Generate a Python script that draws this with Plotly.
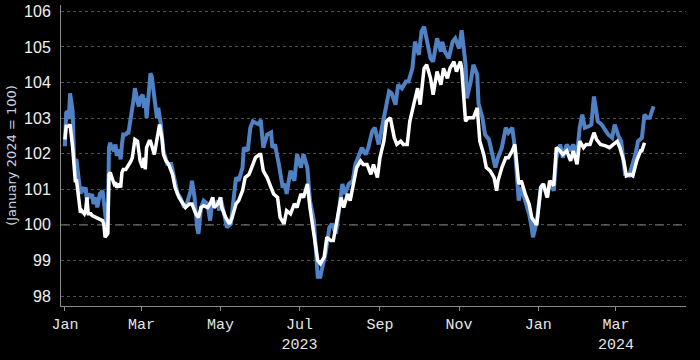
import plotly.graph_objects as go

blue_dates = ["2023-01-01","2023-01-02","2023-01-03","2023-01-04","2023-01-05","2023-01-07","2023-01-08","2023-01-09","2023-01-10","2023-01-12",
"2023-01-13","2023-01-14","2023-01-16","2023-01-17","2023-01-18","2023-01-19","2023-01-21","2023-01-22","2023-01-23","2023-01-25",
"2023-01-26","2023-01-27","2023-01-28","2023-01-30","2023-01-31","2023-02-01","2023-02-03","2023-02-04","2023-02-05","2023-02-06",
"2023-02-08","2023-02-09","2023-02-10","2023-02-12","2023-02-13","2023-02-14","2023-02-15","2023-02-17","2023-02-18","2023-02-19",
"2023-02-21","2023-02-22","2023-02-23","2023-02-24","2023-02-26","2023-02-27","2023-02-28","2023-03-02","2023-03-03","2023-03-04",
"2023-03-05","2023-03-07","2023-03-08","2023-03-09","2023-03-11","2023-03-13","2023-03-14","2023-03-16","2023-03-18","2023-03-21",
"2023-03-24","2023-03-26","2023-03-29","2023-03-31","2023-04-03","2023-04-05","2023-04-08","2023-04-09","2023-04-11","2023-04-13",
"2023-04-14","2023-04-16","2023-04-18","2023-04-21","2023-04-23","2023-04-25","2023-04-26","2023-04-29","2023-04-30","2023-05-01",
"2023-05-04","2023-05-06","2023-05-09","2023-05-11","2023-05-13","2023-05-15","2023-05-18","2023-05-19","2023-05-22","2023-05-24",
"2023-05-26","2023-05-28","2023-05-31","2023-06-01","2023-06-02","2023-06-03","2023-06-06","2023-06-09","2023-06-10","2023-06-12",
"2023-06-15","2023-06-18","2023-06-20","2023-06-21","2023-06-24","2023-06-27","2023-06-29","2023-07-02","2023-07-04","2023-07-07",
"2023-07-09","2023-07-12","2023-07-15","2023-07-17","2023-07-18","2023-07-21","2023-07-24","2023-07-26","2023-07-29","2023-07-31",
"2023-08-03","2023-08-05","2023-08-08","2023-08-11","2023-08-13","2023-08-16","2023-08-18","2023-08-21","2023-08-23","2023-08-26",
"2023-08-28","2023-08-31","2023-09-03","2023-09-05","2023-09-08","2023-09-10","2023-09-13","2023-09-15","2023-09-18","2023-09-21",
"2023-09-23","2023-09-26","2023-09-28","2023-10-01","2023-10-03","2023-10-05","2023-10-07","2023-10-10","2023-10-12","2023-10-15",
"2023-10-18","2023-10-19","2023-10-21","2023-10-24","2023-10-27","2023-10-29","2023-11-01","2023-11-03","2023-11-06","2023-11-07",
"2023-11-10","2023-11-12","2023-11-15","2023-11-16","2023-11-19","2023-11-21","2023-11-24","2023-11-26","2023-11-29","2023-12-01",
"2023-12-04","2023-12-07","2023-12-09","2023-12-12","2023-12-14","2023-12-17","2023-12-19","2023-12-22","2023-12-25","2023-12-27",
"2023-12-28","2023-12-31","2024-01-03","2024-01-05","2024-01-08","2024-01-10","2024-01-13","2024-01-15","2024-01-18","2024-01-20",
"2024-01-23","2024-01-26","2024-01-28","2024-01-31","2024-02-02","2024-02-04","2024-02-06","2024-02-09","2024-02-11","2024-02-13",
"2024-02-15","2024-02-16","2024-02-19","2024-02-22","2024-02-24","2024-02-27","2024-02-29","2024-03-03","2024-03-05","2024-03-08",
"2024-03-11","2024-03-13","2024-03-16","2024-03-18","2024-03-21","2024-03-23","2024-03-25","2024-03-27","2024-03-30"]

blue_values = [102.21,103.15,103.19,102.97,103.70,103.19,101.89,101.80,101.80,101.05,
100.87,101.05,100.96,101.05,100.68,100.87,100.77,100.87,100.59,100.77,
100.49,100.68,100.87,100.96,100.59,100.21,99.75,102.17,102.31,102.17,
102.08,102.26,101.94,102.12,101.84,102.26,102.54,102.54,102.59,102.59,
103.19,103.29,103.52,103.84,103.47,103.33,103.56,103.66,103.29,103.56,
103.01,104.03,104.26,104.17,103.47,103.00,103.29,102.83,102.08,101.71,
101.71,101.33,100.87,100.77,100.49,100.59,100.96,101.24,100.77,99.93,
99.75,100.49,100.68,100.59,100.12,100.77,100.49,100.68,100.40,100.77,
100.31,99.93,100.03,100.77,101.33,101.24,101.61,102.17,102.08,102.73,
102.91,102.87,102.82,102.96,102.63,102.17,102.54,102.60,102.17,102.26,
101.70,101.05,101.15,100.87,101.52,101.24,101.98,101.61,101.98,101.61,
100.68,100.12,98.54,98.54,98.72,99.19,99.93,100.03,99.75,100.40,
101.15,100.87,101.15,101.24,101.70,101.98,102.17,101.98,102.17,102.63,
102.73,102.26,102.82,103.29,103.75,103.70,103.38,103.94,103.84,104.03,
104.03,104.40,105.15,104.78,105.43,105.57,105.15,104.68,104.59,105.24,
104.87,105.15,104.87,104.68,105.15,105.24,104.96,105.47,104.50,103.56,
104.03,104.50,104.22,103.40,103.01,102.54,102.40,102.08,101.61,101.89,
102.17,102.73,102.59,102.73,102.17,100.68,101.05,100.68,100.31,99.93,
99.65,100.12,101.05,101.15,100.77,101.24,100.96,101.89,102.26,101.89,
102.26,102.08,102.26,101.98,102.73,103.10,102.73,102.77,102.82,103.61,
103.19,102.91,102.82,102.63,102.54,102.45,102.82,102.49,102.35,101.42,
101.38,101.61,101.98,102.35,102.45,103.10,103.01,103.01,103.33]

white_dates = ["2023-01-01","2023-01-02","2023-01-04","2023-01-05","2023-01-07","2023-01-08","2023-01-09","2023-01-10","2023-01-12","2023-01-13",
"2023-01-14","2023-01-16","2023-01-17","2023-01-18","2023-01-19","2023-01-21","2023-01-22","2023-01-25","2023-01-27","2023-01-30",
"2023-01-31","2023-02-01","2023-02-03","2023-02-04","2023-02-05","2023-02-06","2023-02-08","2023-02-09","2023-02-10","2023-02-12",
"2023-02-13","2023-02-14","2023-02-15","2023-02-17","2023-02-18","2023-02-19","2023-02-21","2023-02-22","2023-02-23","2023-02-24",
"2023-02-26","2023-02-27","2023-02-28","2023-03-02","2023-03-03","2023-03-04","2023-03-05","2023-03-07","2023-03-08","2023-03-11",
"2023-03-13","2023-03-15","2023-03-17","2023-03-18","2023-03-20","2023-03-22","2023-03-25","2023-03-27","2023-03-30","2023-04-02",
"2023-04-04","2023-04-07","2023-04-09","2023-04-12","2023-04-14","2023-04-16","2023-04-18","2023-04-21","2023-04-23","2023-04-25",
"2023-04-26","2023-04-29","2023-05-01","2023-05-02","2023-05-05","2023-05-08","2023-05-10","2023-05-13","2023-05-15","2023-05-18",
"2023-05-20","2023-05-23","2023-05-26","2023-05-28","2023-05-31","2023-06-01","2023-06-03","2023-06-06","2023-06-09","2023-06-11",
"2023-06-14","2023-06-16","2023-06-19","2023-06-21","2023-06-24","2023-06-27","2023-06-29","2023-07-02","2023-07-04","2023-07-07",
"2023-07-09","2023-07-12","2023-07-15","2023-07-17","2023-07-20","2023-07-22","2023-07-25","2023-07-27","2023-07-30","2023-08-02",
"2023-08-04","2023-08-07","2023-08-09","2023-08-12","2023-08-14","2023-08-17","2023-08-19","2023-08-22","2023-08-25","2023-08-27",
"2023-08-30","2023-09-01","2023-09-04","2023-09-06","2023-09-09","2023-09-12","2023-09-14","2023-09-17","2023-09-19","2023-09-22",
"2023-09-24","2023-09-27","2023-09-30","2023-10-02","2023-10-05","2023-10-07","2023-10-10","2023-10-12","2023-10-15","2023-10-18",
"2023-10-20","2023-10-23","2023-10-25","2023-10-28","2023-10-30","2023-11-02","2023-11-03","2023-11-06","2023-11-08","2023-11-12",
"2023-11-15","2023-11-17","2023-11-20","2023-11-22","2023-11-25","2023-11-28","2023-11-30","2023-12-01","2023-12-04","2023-12-07",
"2023-12-09","2023-12-12","2023-12-14","2023-12-17","2023-12-19","2023-12-22","2023-12-25","2023-12-27","2023-12-30","2023-12-31",
"2024-01-03","2024-01-05","2024-01-08","2024-01-10","2024-01-13","2024-01-15","2024-01-18","2024-01-20","2024-01-23","2024-01-26",
"2024-01-28","2024-01-31","2024-02-02","2024-02-05","2024-02-07","2024-02-10","2024-02-13","2024-02-15","2024-02-18","2024-02-22",
"2024-02-25","2024-02-28","2024-03-02","2024-03-04","2024-03-07","2024-03-09","2024-03-12","2024-03-14","2024-03-17","2024-03-20",
"2024-03-21","2024-03-23"]

white_values = [102.40,102.77,102.77,102.82,102.17,101.80,101.24,101.24,100.49,100.35,
100.40,100.31,100.40,100.77,100.31,100.31,100.26,100.21,100.17,100.12,
100.03,99.65,99.75,101.42,101.47,101.35,101.15,101.19,101.05,101.15,
101.05,101.47,101.56,101.56,101.61,101.70,101.80,101.89,102.17,102.40,
102.35,102.12,101.80,101.61,101.89,101.56,102.17,102.35,102.35,101.98,
102.35,102.82,102.40,101.98,101.80,101.71,101.42,101.05,100.77,100.59,
100.49,100.59,100.59,100.31,100.21,100.49,100.54,100.49,100.59,100.77,
100.49,100.59,100.77,100.49,100.21,100.03,100.21,100.59,100.68,100.96,
101.33,101.42,101.70,101.89,101.98,101.98,101.52,101.33,101.05,100.87,
100.77,100.21,100.03,100.40,100.31,100.59,100.49,100.87,100.77,101.15,
100.49,99.75,99.00,98.91,99.10,99.65,99.56,99.56,100.12,100.77,
100.49,100.87,100.68,101.24,101.61,101.80,101.70,101.70,101.42,101.70,
101.33,101.89,102.35,102.91,103.01,102.45,102.26,102.35,102.26,102.26,
102.91,103.38,103.84,103.38,104.40,104.50,104.12,103.66,104.31,103.94,
104.40,104.12,104.40,104.59,104.31,104.59,104.40,102.91,103.01,103.01,
103.29,102.35,101.98,101.61,101.52,101.33,100.96,101.24,101.61,101.89,
101.89,102.08,102.26,101.15,101.24,100.87,100.59,100.21,100.03,100.03,
101.05,101.15,100.77,101.24,101.10,102.17,102.08,101.98,102.08,101.80,
102.08,101.70,102.35,102.17,102.26,102.26,102.59,102.40,102.26,102.22,
102.17,102.26,102.35,102.17,101.80,101.38,101.42,101.38,101.80,102.08,
102.08,102.31]

tick_dates = ["2023-01-01","2023-03-01","2023-05-01","2023-07-01","2023-09-01","2023-11-01","2024-01-01","2024-03-01"]
tick_labels = ["Jan","Mar","May","Jul<br>2023","Sep","Nov","Jan","Mar<br>2024"]
y_ticks = [98, 99, 100, 101, 102, 103, 104, 105, 106]
y_title = "(January 2024 = 100)"

fig = go.Figure()
fig.add_trace(go.Scatter(x=blue_dates, y=blue_values, mode="lines",
                         line=dict(color="#4f81c4", width=4), showlegend=False))
fig.add_trace(go.Scatter(x=white_dates, y=white_values, mode="lines",
                         line=dict(color="#ffffff", width=3.5), showlegend=False))

fig.add_shape(type="line", xref="paper", x0=0, x1=1, yref="y", y0=100, y1=100,
              line=dict(color="#9a9a9a", width=1, dash="dash"), layer="below")

fig.update_layout(
    width=700, height=360,
    paper_bgcolor="#000000", plot_bgcolor="#000000",
    margin=dict(l=61, r=14, t=3, b=54),
    xaxis=dict(
        range=["2022-12-29", "2024-04-24"],
        tickmode="array", tickvals=tick_dates, ticktext=tick_labels,
        showgrid=False, showline=True, linecolor="#8a8a8a", linewidth=1,
        ticks="outside", ticklen=4, tickcolor="#8a8a8a",
        tickfont=dict(family="Liberation Mono", size=15, color="#e6e6e6"),
        zeroline=False,
    ),
    yaxis=dict(
        range=[97.72, 106.18],
        tickmode="array", tickvals=y_ticks,
        showgrid=True, gridcolor="#505050", griddash="dot", gridwidth=1,
        showline=True, linecolor="#8a8a8a", linewidth=1,
        ticks="", ticklabelstandoff=6,
        tickfont=dict(family="Liberation Sans", size=16, color="#f0f0f0"),
        title=dict(text=y_title, font=dict(family="DejaVu Sans", size=13, color="#c8d2e4"), standoff=4),
        zeroline=False,
    ),
)

fig.write_html("out.html", config={"displayModeBar": False},
               post_script="document.body.style.margin='0';document.body.style.background='#000';")
